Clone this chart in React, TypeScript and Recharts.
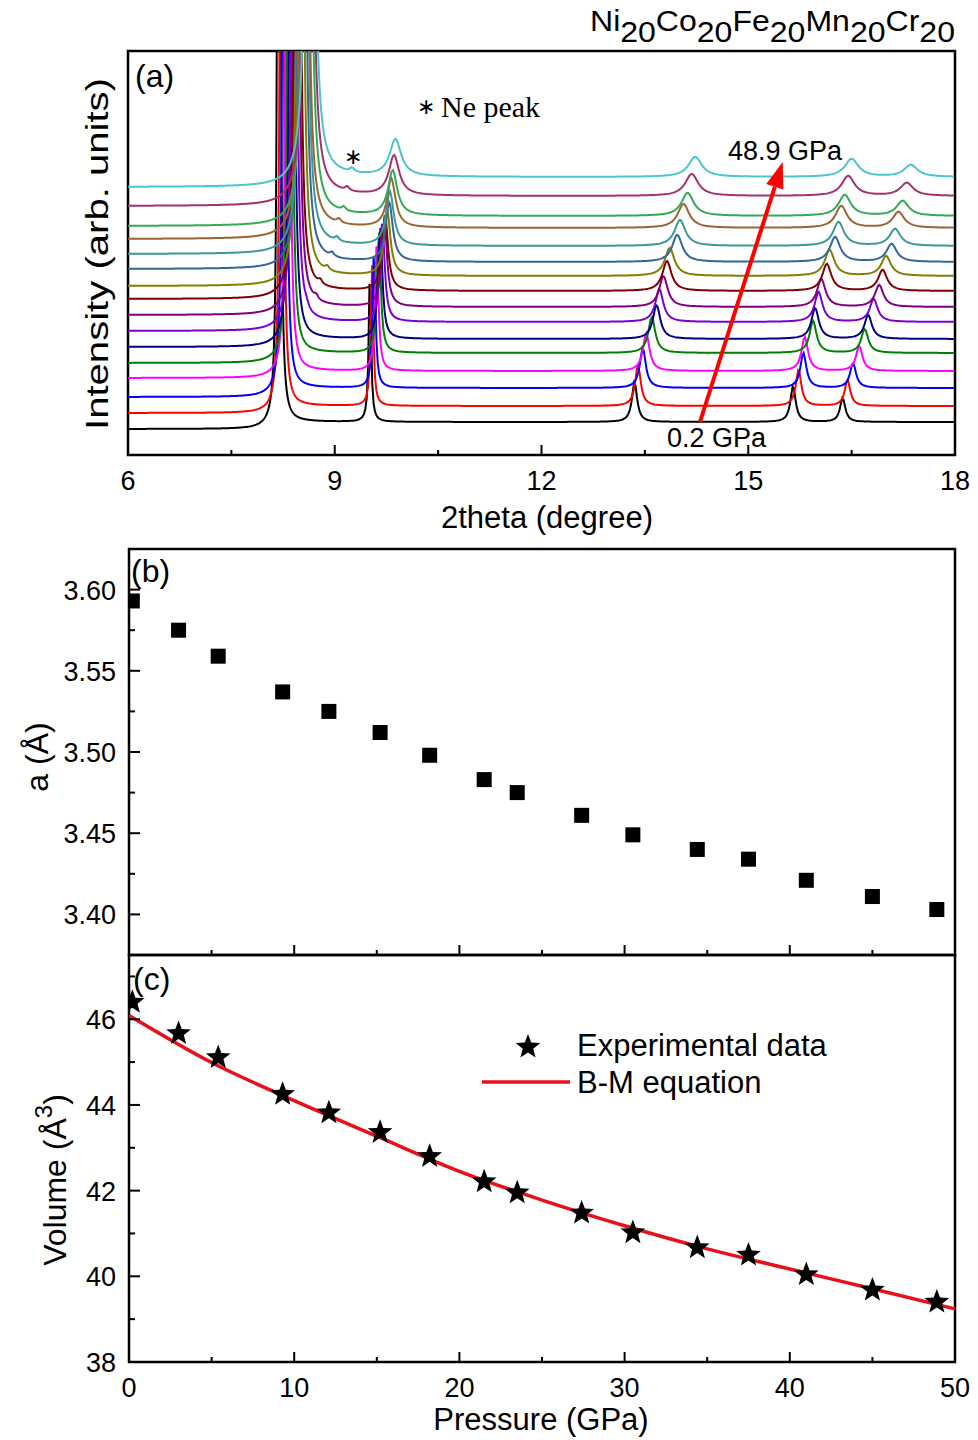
import React from 'react';
import {
  LineChart, Line, XAxis, YAxis, ReferenceArea, ReferenceLine,
  ScatterChart, Scatter, ComposedChart,
} from 'recharts';

const SANS = '"Liberation Sans", Arial, sans-serif';
const SERIF = '"Liberation Serif", "Times New Roman", serif';

// pressure steps (GPa), shared by panels (b) and (c)
const pressures = [0.2, 3.0, 5.4, 9.3, 12.1, 15.2, 18.2, 21.5, 23.5, 27.4, 30.5, 34.4, 37.5, 41.0, 45.0, 48.9];
const latticeA = [3.593, 3.575, 3.559, 3.537, 3.525, 3.512, 3.498, 3.483, 3.475, 3.461, 3.449, 3.440, 3.434, 3.421, 3.411, 3.403];
const cellVolume = [46.4, 45.67, 45.11, 44.25, 43.82, 43.36, 42.8, 42.21, 41.95, 41.48, 41.02, 40.67, 40.5, 40.04, 39.68, 39.4];

// B-M fit
const bmPressure = [0, 5, 10, 15, 20, 25, 30, 35, 40, 45, 50];
const bmVolume = [46.09, 44.99, 44.1, 43.27, 42.45, 41.78, 41.18, 40.64, 40.17, 39.71, 39.24];

// XRD patterns, bottom (0.2 GPa) to top (48.9 GPa)
const curveColors = [
  '#000000', '#ff0000', '#0000ff', '#ff00ff', '#008000', '#000080', '#7a00d6', '#800080',
  '#800000', '#808000', '#336699', '#3d9999', '#996633', '#33aa55', '#a0336e', '#4cc6cc',
];
const baseLeft = [26, 42, 58, 77, 92, 108, 124, 140, 156, 169, 186, 201, 216, 229, 249, 268];
const baseRight = [33, 49, 67, 84, 102, 116, 133, 148, 164, 179, 193, 209, 227, 239, 259, 278];
const pos111 = [8.19, 8.23, 8.27, 8.32, 8.35, 8.38, 8.41, 8.44, 8.46, 8.5, 8.53, 8.55, 8.56, 8.6, 8.62, 8.64];
const width111 = [0.012, 0.012, 0.013, 0.013, 0.014, 0.015, 0.016, 0.017, 0.018, 0.019, 0.02, 0.021, 0.022, 0.023, 0.024, 0.025];
const pos200 = [9.51, 9.54, 9.57, 9.61, 9.64, 9.66, 9.69, 9.72, 9.73, 9.76, 9.79, 9.8, 9.82, 9.84, 9.86, 9.88];
const height200 = [150, 145, 138, 130, 122, 112, 100, 88, 76, 66, 60, 54, 49, 45, 40, 37];
const width200 = [0.02, 0.022, 0.025, 0.028, 0.032, 0.036, 0.04, 0.045, 0.05, 0.055, 0.06, 0.067, 0.073, 0.08, 0.09, 0.1];
const pos220 = [13.35, 13.4, 13.47, 13.52, 13.6, 13.67, 13.71, 13.77, 13.82, 13.86, 13.97, 14.01, 14.06, 14.12, 14.18, 14.23];
const height220 = [40, 41, 40, 38, 36, 34, 33, 31, 30, 28, 27, 26, 24, 23, 22, 20];
const pos311 = [15.65, 15.73, 15.8, 15.82, 15.94, 15.97, 16.02, 16.06, 16.14, 16.18, 16.26, 16.31, 16.35, 16.4, 16.45, 16.5];
const height311 = [36, 36, 35, 34, 32, 31, 30, 28, 27, 26, 25, 24, 22, 21, 20, 18];
const pos222 = [16.37, 16.44, 16.52, 16.61, 16.69, 16.74, 16.82, 16.9, 16.95, 17.0, 17.08, 17.13, 17.18, 17.24, 17.3, 17.36];
const height222 = [24, 26, 25, 25, 24, 24, 23, 22, 21, 20, 18, 17, 16, 15, 13, 12];
const widthHigh = [0.045, 0.048, 0.052, 0.056, 0.06, 0.064, 0.068, 0.073, 0.078, 0.083, 0.088, 0.094, 0.1, 0.106, 0.112, 0.118];
const posNe = [0, 0, 0, 0, 0, 0, 8.59, 8.73, 8.79, 8.89, 8.96, 9.03, 9.06, 9.13, 9.18, 9.25];
const heightNe = [0, 0, 0, 0, 0, 0, 4, 4, 4, 4, 4, 4, 4, 4, 4, 4];

const ticksTheta = [6, 7.5, 9, 10.5, 12, 13.5, 15, 16.5, 18];
const ticksP = [0, 5, 10, 15, 20, 25, 30, 35, 40, 45, 50];
const ticksA = [3.4, 3.425, 3.45, 3.475, 3.5, 3.525, 3.55, 3.575, 3.6];
const ticksV = [38, 39, 40, 41, 42, 43, 44, 45, 46, 47];

const lor = (x: number, c: number, h: number, g: number) => (h * g * g) / (g * g + (x - c) * (x - c));

// sample the read peak list on a 2theta grid (finer around the strong 111 line)
const xrdRows: Record<string, number>[] = [];
for (let x = 6; x <= 18.0001; x += x >= 7.9 && x < 9.0 ? 0.004 : 0.02) {
  const row: Record<string, number> = { x };
  for (let i = 0; i < curveColors.length; i++) {
    const bg = baseLeft[i] + (baseRight[i] - baseLeft[i]) / (1 + Math.exp(-(x - pos111[i]) / 0.12));
    let v = bg
      + lor(x, pos111[i], 3000, width111[i])
      + lor(x, pos200[i], height200[i], width200[i])
      + lor(x, pos220[i], height220[i], widthHigh[i])
      + lor(x, pos311[i], height311[i], widthHigh[i])
      + lor(x, pos222[i], height222[i], widthHigh[i]);
    if (heightNe[i]) v += lor(x, posNe[i], heightNe[i], 0.035);
    row[`s${i}`] = v;
  }
  xrdRows.push(row);
}

const latticeData = pressures.map((p, i) => ({ p, a: latticeA[i] }));
const volumeData = pressures.map((p, i) => ({ p, v: cellVolume[i] }));
const bmData = bmPressure.map((p, i) => ({ p, v: bmVolume[i] }));

const tickText = { fontFamily: SANS, fontSize: 27, fill: '#000' };

function bottomTick(isMajor: (v: number) => boolean, showLabel: boolean) {
  return (props: any) => {
    const { x, y, payload } = props;
    const v = payload.value as number;
    const major = isMajor(v);
    return (
      <g>
        <line x1={x} x2={x} y1={y} y2={y - (major ? 10 : 5)} stroke="#000" strokeWidth={2} />
        {showLabel && major && (
          <text x={x} y={y + 35} textAnchor="middle" {...tickText}>{v}</text>
        )}
      </g>
    );
  };
}

function leftTick(isMajor: (v: number) => boolean, fmt: (v: number) => string) {
  return (props: any) => {
    const { x, y, payload } = props;
    const v = payload.value as number;
    const major = isMajor(v);
    return (
      <g>
        <line x1={x} x2={x + (major ? 11 : 6)} y1={y} y2={y} stroke="#000" strokeWidth={2} />
        {major && (
          <text x={x - 13} y={y + 10} textAnchor="end" {...tickText}>{fmt(v)}</text>
        )}
      </g>
    );
  };
}

const Square = (props: any) => (
  <rect x={props.cx - 7.5} y={props.cy - 7.5} width={15} height={15} fill="#000" />
);

const starPath = (cx: number, cy: number, R: number, r: number) => {
  const pts: string[] = [];
  for (let k = 0; k < 10; k++) {
    const ang = -Math.PI / 2 + (k * Math.PI) / 5;
    const rad = k % 2 === 0 ? R : r;
    pts.push(`${(cx + rad * Math.cos(ang)).toFixed(2)},${(cy + rad * Math.sin(ang)).toFixed(2)}`);
  }
  return pts.join(' ');
};

const Star = (props: any) => <polygon points={starPath(props.cx, props.cy, 13, 5.5)} fill="#000" />;

const Arrow = (props: any) => {
  const { x1, y1, x2, y2 } = props;
  const dx = x2 - x1;
  const dy = y2 - y1;
  const len = Math.sqrt(dx * dx + dy * dy);
  const ux = dx / len;
  const uy = dy / len;
  const bx = x2 - ux * 26;
  const by = y2 - uy * 26;
  return (
    <g>
      <line x1={x1} y1={y1} x2={bx} y2={by} stroke="#ff0000" strokeWidth={4} />
      <polygon
        points={`${x2},${y2} ${bx - uy * 9},${by + ux * 9} ${bx + uy * 9},${by - ux * 9}`}
        fill="#ff0000"
      />
    </g>
  );
};

const frame = { fill: 'none', stroke: '#000', strokeWidth: 2.5 };

export default function App() {
  return (
    <div style={{ position: 'absolute', left: 0, top: 0, width: 978, height: 1440, background: '#fff' }}>
      {/* (a) XRD patterns */}
      <div style={{ position: 'absolute', left: 0, top: 0 }}>
        <LineChart width={978} height={540} data={xrdRows} margin={{ top: 51, right: 23, bottom: 55, left: 100 }}>
          <XAxis
            dataKey="x" type="number" domain={[6, 18]} ticks={ticksTheta} interval={0}
            tickSize={0} tickMargin={0} axisLine={false} tickLine={false} height={30}
            tick={bottomTick((v) => v % 3 === 0, true)} allowDataOverflow
          />
          <YAxis type="number" domain={[0, 404]} allowDataOverflow width={28} axisLine={false} tickLine={false} tick={false} />
          {curveColors.map((c, i) => (
            <Line key={i} type="linear" dataKey={`s${i}`} stroke={c} strokeWidth={2} dot={false} isAnimationActive={false} />
          ))}
          <ReferenceArea x1={6} x2={18} y1={0} y2={404} {...frame} fillOpacity={0} ifOverflow="visible" />
          <ReferenceLine segment={[{ x: 14.3, y: 33 }, { x: 15.5, y: 293 }]} shape={Arrow} ifOverflow="visible" />
        </LineChart>
      </div>

      {/* (c) volume */}
      <div style={{ position: 'absolute', left: 0, top: 940 }}>
        <ComposedChart width={978} height={500} margin={{ top: 15, right: 23, bottom: 48, left: 101 }}>
          <XAxis
            dataKey="p" type="number" domain={[0, 50]} ticks={ticksP} interval={0}
            tickSize={0} tickMargin={0} axisLine={false} tickLine={false} height={30}
            tick={bottomTick((v) => v % 10 === 0, true)} allowDataOverflow
          />
          <YAxis
            dataKey="v" type="number" domain={[38, 47.5]} ticks={ticksV} interval={0}
            tickSize={0} tickMargin={0} axisLine={false} tickLine={false} width={28}
            tick={leftTick((v) => v % 2 === 0, (v) => String(v))} allowDataOverflow
          />
          <Line data={bmData} type="monotone" dataKey="v" stroke="#e8101a" strokeWidth={3.5} dot={false} isAnimationActive={false} />
          <Scatter data={volumeData} dataKey="v" shape={Star} isAnimationActive={false} />
          <ReferenceArea x1={0} x2={50} y1={38} y2={47.5} {...frame} fillOpacity={0} ifOverflow="visible" />
        </ComposedChart>
      </div>

      {/* (b) lattice parameter */}
      <div style={{ position: 'absolute', left: 0, top: 530 }}>
        <ScatterChart width={978} height={470} margin={{ top: 19, right: 23, bottom: 15, left: 101 }}>
          <XAxis
            dataKey="p" type="number" domain={[0, 50]} ticks={ticksP} interval={0}
            tickSize={0} tickMargin={0} axisLine={false} tickLine={false} height={30}
            tick={bottomTick((v) => v % 10 === 0, false)} allowDataOverflow
          />
          <YAxis
            dataKey="a" type="number" domain={[3.375, 3.625]} ticks={ticksA} interval={0}
            tickSize={0} tickMargin={0} axisLine={false} tickLine={false} width={28}
            tick={leftTick((v) => Math.round(v * 1000) % 50 === 0, (v) => v.toFixed(2))} allowDataOverflow
          />
          <Scatter data={latticeData} dataKey="a" shape={Square} isAnimationActive={false} />
          <ReferenceArea x1={0} x2={50} y1={3.375} y2={3.625} {...frame} fillOpacity={0} ifOverflow="visible" />
        </ScatterChart>
      </div>

      {/* labels and legend */}
      <svg width={978} height={1440} style={{ position: 'absolute', left: 0, top: 0, pointerEvents: 'none' }}>
        <g fontFamily={SANS} fill="#000">
          <text x={590} y={31} fontSize={29} textLength={365} lengthAdjust="spacingAndGlyphs">
            <tspan>Ni</tspan><tspan dy={11}>20</tspan>
            <tspan dy={-11}>Co</tspan><tspan dy={11}>20</tspan>
            <tspan dy={-11}>Fe</tspan><tspan dy={11}>20</tspan>
            <tspan dy={-11}>Mn</tspan><tspan dy={11}>20</tspan>
            <tspan dy={-11}>Cr</tspan><tspan dy={11}>20</tspan>
          </text>
          <text x={135} y={87} fontSize={32}>(a)</text>
          <text x={131} y={582} fontSize={32}>(b)</text>
          <text x={133} y={990} fontSize={32}>(c)</text>
          <text x={728} y={160} fontSize={27}>48.9 GPa</text>
          <text x={667} y={447} fontSize={27}>0.2 GPa</text>
          <text x={547} y={528} fontSize={31} textAnchor="middle">2theta (degree)</text>
          <text x={541} y={1430} fontSize={31} textAnchor="middle">Pressure (GPa)</text>
          <text transform="translate(108,254) rotate(-90)" fontSize={32} textAnchor="middle" textLength={352} lengthAdjust="spacingAndGlyphs">
            Intensity (arb. units)
          </text>
          <text transform="translate(48,757) rotate(-90)" fontSize={32} textAnchor="middle">a (Å)</text>
          <text transform="translate(66,1180) rotate(-90)" fontSize={32} textAnchor="middle">
            Volume (Å<tspan dy={-14} fontSize={24}>3</tspan><tspan dy={14}>)</tspan>
          </text>
          <polygon points={starPath(528, 1047, 13, 5.5)} fill="#000" />
          <text x={577} y={1056} fontSize={31}>Experimental data</text>
          <line x1={482} x2={570} y1={1082} y2={1082} stroke="#e8101a" strokeWidth={3.5} />
          <text x={577} y={1093} fontSize={31}>B-M equation</text>
        </g>
        <g fontFamily={SERIF} fill="#000">
          <text x={426} y={114} fontSize={22} textAnchor="middle">∗</text>
          <text x={441} y={117} fontSize={30}>Ne peak</text>
          <text x={353} y={164} fontSize={22} textAnchor="middle">∗</text>
        </g>
      </svg>
    </div>
  );
}
